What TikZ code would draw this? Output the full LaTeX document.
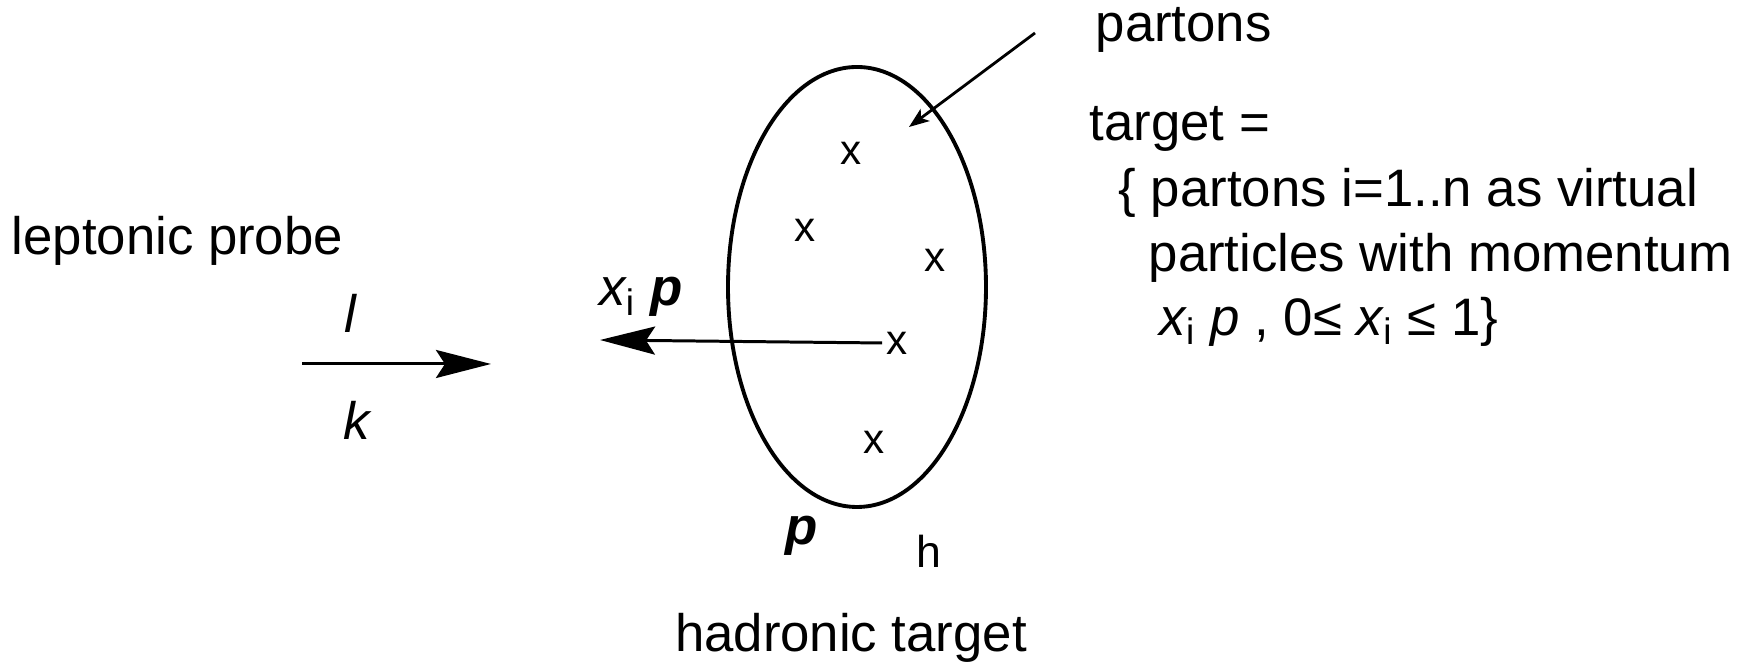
\documentclass[tikz,border=0pt]{standalone}
\usepackage{fontspec}
\setmainfont{Liberation Sans}
\usetikzlibrary{arrows.meta,positioning}

\begin{document}
\begin{tikzpicture}[x=0.01cm,y=-0.01cm,
    lbl/.style={font=\fontsize{15}{18}\selectfont,inner sep=0pt},
    mom/.style={lbl,font=\fontsize{15}{18}\selectfont\itshape},
    parton/.style={font=\fontsize{12}{14}\selectfont,inner sep=1pt},
    arr/.style={-{Stealth[length=5.5mm,width=2.8mm,inset=0.9mm]},line width=0.85pt},
    sarr/.style={-{Stealth[length=2mm,width=1.5mm,inset=0.5mm]},line width=0.8pt}
  ]
  \useasboundingbox (0,0) rectangle (1756,665);
  % hadron
  \draw[line width=1.1pt] (857,287) ellipse [x radius=129, y radius=220];
  \foreach \n/\pos in {1/{(851,153)},2/{(805,230)},3/{(935,260)},4/{(897,343)},5/{(874,442)}}
    \node[parton] (q\n) at \pos {x};
  % probe
  \node[lbl,anchor=west] (probe) at (11,241) {leptonic probe};
  \coordinate (lin) at (302,364);
  \coordinate (lout) at (491,364);
  \draw[arr] (lin) -- (lout);
  \node[mom] (lname) at (350,313) {l};
  \node[mom] (kmom) at (357,420) {k};
  % struck parton
  \coordinate (qout) at (600,340);
  \draw[arr] (q4.west) -- (qout);
  \node[lbl] (xip) at (641,297) {{\itshape x}\textsubscript{i}\ {\bfseries\itshape p}};
  \node[lbl,font=\fontsize{15}{18}\selectfont\bfseries\itshape] (pmom) at (802,536) {p};
  \node[lbl,font=\fontsize{12.7}{15}\selectfont] (hname) at (929,551) {h};
  \node[lbl] (hadron) at (851,638) {hadronic target};
  % partons
  \node[lbl,anchor=west] (partons) at (1095,30) {partons};
  \coordinate (pfrom) at (1035,33);
  \coordinate (pto) at (909,127);
  \draw[sarr] (pfrom) -- (pto);
  \node[lbl,anchor=west] (tgt) at (1089,129) {target =};
  \node[lbl,anchor=west] (tgt1) at (1118,193) {\{ partons i=1..n as virtual};
  \node[lbl,anchor=west] (tgt2) at (1148,258) {particles with momentum};
  \node[lbl,anchor=west] (tgt3) at (1159,322) {{\itshape x}\textsubscript{i} {\itshape p} , 0≤ {\itshape x}\textsubscript{i} ≤ 1\}};
\end{tikzpicture}
\end{document}
